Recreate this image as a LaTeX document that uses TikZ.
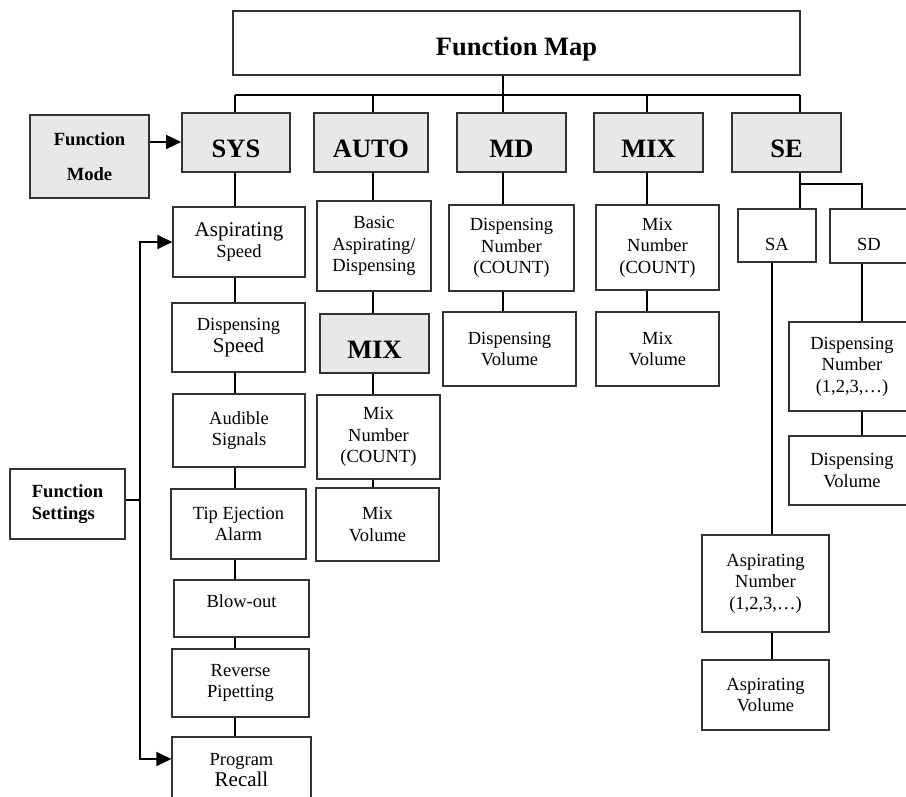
\documentclass[tikz,border=0pt]{standalone}
\usepackage{fontspec}
\setmainfont{Liberation Serif}
\usetikzlibrary{arrows.meta}
\newcommand\dnNorm{\fontsize{18.5}{21.5}\selectfont}
\newcommand\dnBig{\fontsize{21}{23}\selectfont}
\newcommand\dnHead{\fontsize{26.5}{30}\selectfont\bfseries}
\newcommand\dnSide{\fontsize{18.6}{22}\selectfont\bfseries}
\newcommand\dnbox[7]{\node[#1, minimum width={#5pt-#3pt}, minimum height={#6pt-#4pt}] (#2) at ({(#3+#5)/2},{(#4+#6)/2}) {#7};}
\begin{document}
\begin{tikzpicture}[x=1pt,y=-1pt,
  box/.style={draw=black!80, line width=1.2pt, fill=white, inner sep=0pt, align=center, font=\dnNorm},
  hbox/.style={box, fill=black!9, line width=1.6pt, font=\dnHead, text height=30pt, text depth=0pt},
  sbox/.style={box, line width=1.6pt, font=\dnSide},
  conn/.style={line width=1.3pt, draw=black},
  arr/.style={conn, -{Triangle[length=15pt,width=14pt]}}]
\useasboundingbox (0,0) rectangle (906,797);
% title
\dnbox{box, line width=1.6pt, font=\dnHead, text height=25pt, text depth=0pt}{fm}{233}{11}{800}{75}{Function Map}
% top level
\dnbox{hbox}{sys}{182}{113}{290}{172}{SYS}
\dnbox{hbox}{auto}{314}{113}{428}{172}{AUTO}
\dnbox{hbox}{md}{457}{113}{566}{172}{MD}
\dnbox{hbox}{mix}{594}{113}{703}{172}{MIX}
\dnbox{hbox}{se}{732}{113}{841}{172}{SE}
\dnbox{sbox, fill=black!9, font=\fontsize{18.6}{35}\selectfont\bfseries}{fmode}{30}{115}{149}{198}{Function\\Mode}
\dnbox{sbox, align=left}{fset}{10}{469}{125}{539}{Function\\Settings}
% SYS column
\dnbox{box}{asp}{173}{207}{305}{277}{{\dnBig Aspirating}\\Speed}
\dnbox{box}{dsp}{172}{303}{305}{372}{Dispensing\\{\dnBig Speed}}
\dnbox{box}{aud}{173}{394}{305}{467}{Audible\\Signals}
\dnbox{box}{tip}{171}{489}{306}{559}{Tip Ejection\\Alarm}
\dnbox{box, text depth=14pt}{blow}{174}{580}{309}{637}{Blow-out}
\dnbox{box}{rev}{172}{649}{309}{717}{Reverse\\Pipetting}
\dnbox{box}{prog}{172}{737}{311}{803}{Program\\{\dnBig Recall}}
% AUTO column
\dnbox{box}{basic}{317}{201}{431}{291}{Basic\\Aspirating/\\Dispensing}
\dnbox{hbox}{mixb}{320}{314}{429}{373}{MIX}
\dnbox{box}{mnum}{317}{395}{440}{479}{Mix\\Number\\(COUNT)}
\dnbox{box}{mvol}{316}{488}{439}{561}{Mix\\Volume}
% MD column
\dnbox{box}{dnum}{449}{205}{574}{291}{Dispensing\\Number\\(COUNT)}
\dnbox{box}{dvol}{443}{312}{576}{386}{Dispensing\\Volume}
% MIX column
\dnbox{box}{mnumb}{596}{205}{719}{290}{Mix\\Number\\(COUNT)}
\dnbox{box}{mvolb}{596}{312}{719}{386}{Mix\\Volume}
% SE column
\dnbox{box, text height=29.5pt, text depth=0pt}{sa}{738}{209}{816}{262}{SA}
\dnbox{box, text height=29.5pt, text depth=0pt}{sd}{830}{209}{908}{263}{SD}
\dnbox{box}{anum}{702}{535}{829}{632}{Aspirating\\Number\\(1,2,3,…)}
\dnbox{box}{avol}{702}{660}{829}{730}{Aspirating\\Volume}
\dnbox{box}{sdnum}{789}{322}{915}{411}{Dispensing\\Number\\(1,2,3,…)}
\dnbox{box}{sdvol}{789}{436}{915}{505}{Dispensing\\Volume}
% coordinates
\coordinate (b1) at (235,95);
\coordinate (b2) at (373,95);
\coordinate (b3) at (503,95);
\coordinate (b4) at (647,95);
\coordinate (b5) at (800,95);
\coordinate (sej) at (800,184);
\coordinate (sdx) at (862,184);
\coordinate (sax) at (772,0);
\coordinate (fmy) at (0,142);
\coordinate (fsx) at (140,500);
\coordinate (pry) at (0,759);
% connectors
\draw[conn] (fm.south -| b3) -- (b3);
\draw[conn] (b1) -- (b5);
\foreach \b/\n in {b1/sys,b2/auto,b3/md,b4/mix,b5/se}
  \draw[conn] (\b) -- (\b |- \n.north);
\foreach \u/\v in {sys/asp,asp/dsp,dsp/aud,aud/tip,tip/blow,blow/rev,rev/prog}
  \draw[conn] (\u.south -| b1) -- (\v.north -| b1);
\foreach \u/\v in {auto/basic,basic/mixb,mixb/mnum,mnum/mvol}
  \draw[conn] (\u.south -| b2) -- (\v.north -| b2);
\foreach \u/\v in {md/dnum,dnum/dvol}
  \draw[conn] (\u.south -| b3) -- (\v.north -| b3);
\foreach \u/\v in {mix/mnumb,mnumb/mvolb}
  \draw[conn] (\u.south -| b4) -- (\v.north -| b4);
\draw[conn] (se.south -| sej) -- (sa.north -| sej);
\draw[conn] (sej) -- (sdx) -- (sd.north -| sdx);
\draw[conn] (sd.south -| sdx) -- (sdnum.north -| sdx);
\draw[conn] (sdnum.south -| sdx) -- (sdvol.north -| sdx);
\draw[conn] (sa.south -| sax) -- (anum.north -| sax);
\draw[conn] (anum.south -| sax) -- (avol.north -| sax);
\draw[arr] (fmode.east |- fmy) -- (sys.west |- fmy);
\draw[conn] (fset.east |- fsx) -- (fsx);
\draw[arr] (fsx) -- (fsx |- asp.west) -- (asp.west);
\draw[arr] (fsx) -- (fsx |- pry) -- (prog.west |- pry);
\end{tikzpicture}
\end{document}
